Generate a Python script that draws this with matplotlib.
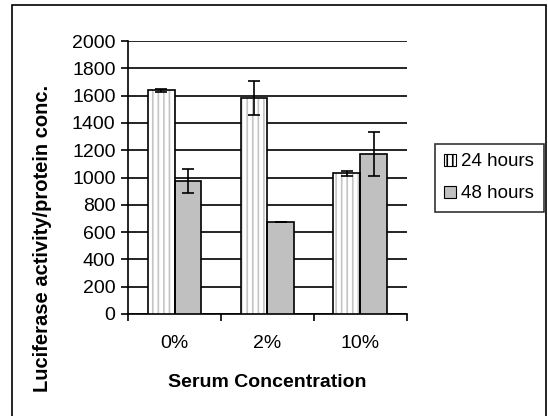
import matplotlib
matplotlib.use("Agg")
import matplotlib.pyplot as plt
from matplotlib.patches import Rectangle
import numpy as np

plt.rcParams['font.family'] = ['Liberation Sans', 'DejaVu Sans']
plt.rcParams['hatch.linewidth'] = 1.2

categories = ['0%', '2%', '10%']
series_names = ['24 hours', '48 hours']
vals_24 = [1640, 1585, 1030]
err_24 = [10, 125, 20]
vals_48 = [975, 675, 1170]
err_48 = [85, 0, 160]

fs = 14

fig = plt.figure(figsize=(5.48, 4.16), dpi=100)
ax = fig.add_axes([0.2336, 0.2452, 0.509, 0.6562])

x = np.arange(len(categories))
w = 0.29

# 24 hours: white with light grey vertical stripes
ax.bar(x - w / 2, vals_24, w, color='white', edgecolor='#c4c4c4', hatch='|||', linewidth=0, zorder=3)
ax.bar(x - w / 2, vals_24, w, color='none', edgecolor='black', linewidth=1.2, zorder=4)
ax.errorbar(x - w / 2, vals_24, yerr=err_24, fmt='none', ecolor='black', elinewidth=1.2, capsize=4, capthick=1.2, zorder=5)

# 48 hours: grey
ax.bar(x + w / 2, vals_48, w, color='#c0c0c0', edgecolor='black', linewidth=1.2, zorder=3)
ax.errorbar(x + w / 2, vals_48, yerr=err_48, fmt='none', ecolor='black', elinewidth=1.2, capsize=4, capthick=1.2, zorder=5)

ax.set_xlim(-0.5, 2.5)
ax.set_ylim(0, 2000)
ax.set_yticks(np.arange(0, 2001, 200))
ax.yaxis.grid(True, color='black', linewidth=1.2, zorder=0)
ax.set_axisbelow(True)

ax.set_xticks([-0.5, 0.5, 1.5, 2.5])
ax.set_xticklabels([])
ax.set_xticks(x, minor=True)
ax.set_xticklabels(categories, minor=True, fontsize=fs)
ax.tick_params(axis='x', which='minor', length=0, pad=15)
ax.tick_params(axis='x', which='major', length=5, width=1.2, direction='out')
ax.tick_params(axis='y', length=5, width=1.2, direction='out', labelsize=fs, pad=4)

for s in ['top', 'right']:
    ax.spines[s].set_visible(False)
for s in ['left', 'bottom']:
    ax.spines[s].set_linewidth(1.2)

ax.set_xlabel('Serum Concentration', fontsize=fs, fontweight='bold', labelpad=16)
ax.set_ylabel('Luciferase activity/protein conc.', fontsize=14.5, fontweight='bold', va='center')
# y label is centred on the whole plot block, lower than the axes centre
ax.yaxis.set_label_coords(43 / 548, 1 - 238 / 416, transform=fig.transFigure)

h1 = Rectangle((0, 0), 1, 1, facecolor='white', edgecolor='black', hatch='|||', linewidth=0.8)
h2 = Rectangle((0, 0), 1, 1, facecolor='#c0c0c0', edgecolor='black', linewidth=0.8)
leg = fig.legend([h1, h2], series_names, loc='upper left', bbox_to_anchor=(435 / 548, 1 - 144 / 416),
                 fontsize=13.5, frameon=True, fancybox=False, edgecolor='black',
                 handlelength=0.6, handleheight=0.6, handletextpad=0.3, borderpad=0.5,
                 labelspacing=0.8, borderaxespad=0)
leg.get_frame().set_linewidth(1.2)

fig.patches.append(Rectangle((12 / 548, -0.01), 534 / 548, 1 - 5 / 416 + 0.01, transform=fig.transFigure,
                             fill=False, edgecolor='black', linewidth=1.2))

fig.savefig('out.png', dpi=100)
